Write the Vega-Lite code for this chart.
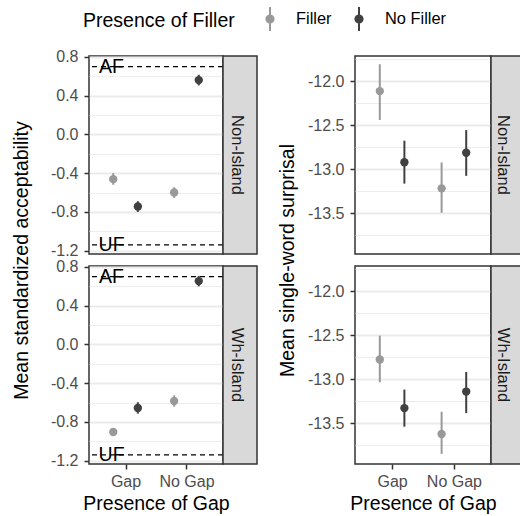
{
  "$schema": "https://vega.github.io/schema/vega-lite/v6.json",
  "padding": {"left": 10, "top": 6, "right": 0, "bottom": 4},
  "datasets": {
    "acc": [
      {"island": "Non-Island", "filler": "Filler", "gap": "Gap", "mean": -0.462, "lo": -0.52, "hi": -0.40},
      {"island": "Non-Island", "filler": "No Filler", "gap": "Gap", "mean": -0.744, "lo": -0.80, "hi": -0.69},
      {"island": "Non-Island", "filler": "Filler", "gap": "No Gap", "mean": -0.599, "lo": -0.655, "hi": -0.545},
      {"island": "Non-Island", "filler": "No Filler", "gap": "No Gap", "mean": 0.561, "lo": 0.506, "hi": 0.616},
      {"island": "Wh-Island", "filler": "Filler", "gap": "Gap", "mean": -0.904, "lo": -0.945, "hi": -0.863},
      {"island": "Wh-Island", "filler": "No Filler", "gap": "Gap", "mean": -0.656, "lo": -0.715, "hi": -0.597},
      {"island": "Wh-Island", "filler": "Filler", "gap": "No Gap", "mean": -0.584, "lo": -0.642, "hi": -0.526},
      {"island": "Wh-Island", "filler": "No Filler", "gap": "No Gap", "mean": 0.654, "lo": 0.60, "hi": 0.708}
    ],
    "surp": [
      {"island": "Non-Island", "filler": "Filler", "gap": "Gap", "mean": -12.114, "lo": -12.442, "hi": -11.809},
      {"island": "Non-Island", "filler": "No Filler", "gap": "Gap", "mean": -12.922, "lo": -13.165, "hi": -12.677},
      {"island": "Non-Island", "filler": "Filler", "gap": "No Gap", "mean": -13.219, "lo": -13.497, "hi": -12.925},
      {"island": "Non-Island", "filler": "No Filler", "gap": "No Gap", "mean": -12.815, "lo": -13.077, "hi": -12.557},
      {"island": "Wh-Island", "filler": "Filler", "gap": "Gap", "mean": -12.777, "lo": -13.037, "hi": -12.506},
      {"island": "Wh-Island", "filler": "No Filler", "gap": "Gap", "mean": -13.330, "lo": -13.541, "hi": -13.119},
      {"island": "Wh-Island", "filler": "Filler", "gap": "No Gap", "mean": -13.624, "lo": -13.850, "hi": -13.371},
      {"island": "Wh-Island", "filler": "No Filler", "gap": "No Gap", "mean": -13.142, "lo": -13.387, "hi": -12.919}
    ],
    "lines": [
      {"label": "AF", "value": 0.70},
      {"label": "UF", "value": -1.14}
    ]
  },
  "columns": 5,
  "spacing": {"row": 12, "column": 0},
  "bounds": "flush",
  "align": "each",
  "concat": [
    {
      "width": 134, "height": 198,
      "layer": [
        {
          "data": {"name": "lines"},
          "mark": {"type": "rule", "strokeDash": [5, 4], "color": "black", "strokeWidth": 1.3},
          "encoding": {
            "y": {"field": "value", "type": "quantitative", "scale": {"domain": [-1.235, 0.81], "nice": false, "zero": false},
              "axis": {"values": [-1.2, -1.0, -0.8, -0.6, -0.4, -0.2, 0, 0.2, 0.4, 0.6, 0.8], "tickCount": 30, "format": ".1f", "labelOverlap": false,
                "labelExpr": "abs(datum.value/0.4 - round(datum.value/0.4)) < 0.01 ? replace(datum.label, '−', '-') : ''",
                "tickOpacity": {"condition": {"test": "abs(datum.value/0.4 - round(datum.value/0.4)) > 0.01", "value": 0}, "value": 1},
                "gridWidth": {"condition": {"test": "abs(datum.value/0.4 - round(datum.value/0.4)) > 0.01", "value": 0.9}, "value": 1.8},
                "title": "Mean standardized acceptability", "titleX": -58, "titleY": 204}}
          }
        },
        {
          "data": {"name": "lines"},
          "mark": {"type": "text", "dx": -14, "fontSize": 19.5, "color": "black", "baseline": "middle"},
          "encoding": {
            "x": {"datum": "Gap", "type": "nominal", "scale": {"type": "point", "domain": ["Gap", "No Gap"], "padding": 0.6}, "axis": {"labels": false, "ticks": false, "title": null}},
            "y": {"field": "value", "type": "quantitative"},
            "text": {"field": "label", "type": "nominal"}
          }
        },
        {
          "data": {"name": "acc"},
          "transform": [{"filter": "datum.island === 'Non-Island'"}],
          "mark": {"type": "rule", "strokeWidth": 2},
          "encoding": {
            "x": {"field": "gap", "type": "nominal", "scale": {"type": "point", "domain": ["Gap", "No Gap"], "padding": 0.6}, "axis": {"labels": false, "ticks": false, "title": null}},
            "xOffset": {"field": "filler", "type": "nominal", "scale": {"type": "point", "domain": ["Filler", "No Filler"], "range": [-12.3, 12.3], "padding": 0}},
            "y": {"field": "lo", "type": "quantitative"},
            "y2": {"field": "hi"},
            "color": {"field": "filler", "type": "nominal", "scale": {"domain": ["Filler", "No Filler"], "range": ["#999999", "#404040"]}, "title": "Presence of Filler", "legend": {"orient": "none", "legendX": -6, "legendY": -50}}
          }
        },
        {
          "data": {"name": "acc"},
          "transform": [{"filter": "datum.island === 'Non-Island'"}],
          "mark": {"type": "point", "filled": true, "size": 70, "opacity": 1},
          "encoding": {
            "x": {"field": "gap", "type": "nominal", "scale": {"type": "point", "domain": ["Gap", "No Gap"], "padding": 0.6}, "axis": {"labels": false, "ticks": false, "title": null}},
            "xOffset": {"field": "filler", "type": "nominal", "scale": {"type": "point", "domain": ["Filler", "No Filler"], "range": [-12.3, 12.3], "padding": 0}},
            "y": {"field": "mean", "type": "quantitative"},
            "color": {"field": "filler", "type": "nominal", "scale": {"domain": ["Filler", "No Filler"], "range": ["#999999", "#404040"]}, "title": "Presence of Filler", "legend": {"orient": "none", "legendX": -6, "legendY": -50}}
          }
        }
      ]
    },
    {
      "width": 34, "height": 198,
      "view": {"fill": "#D9D9D9", "stroke": "#333333", "strokeWidth": 1.5},
      "data": {"values": [{"island": "Non-Island"}]},
      "mark": {"type": "text", "angle": 90, "fontSize": 16.5, "color": "#1A1A1A", "align": "center", "baseline": "middle", "dy": 3},
      "encoding": {"text": {"field": "island", "type": "nominal"}}
    },
    {
      "width": 98, "height": 198,
      "view": {"stroke": null},
      "data": {"values": [{}]},
      "mark": {"type": "text"},
      "encoding": {"text": {"value": ""}}
    },
    {
      "width": 136, "height": 198,
      "layer": [
        {
          "data": {"name": "surp"},
          "transform": [{"filter": "datum.island === 'Non-Island'"}],
          "mark": {"type": "rule", "strokeWidth": 2},
          "encoding": {
            "x": {"field": "gap", "type": "nominal", "scale": {"type": "point", "domain": ["Gap", "No Gap"], "padding": 0.6}, "axis": {"labels": false, "ticks": false, "title": null}},
            "xOffset": {"field": "filler", "type": "nominal", "scale": {"type": "point", "domain": ["Filler", "No Filler"], "range": [-12.3, 12.3], "padding": 0}},
            "y": {"field": "lo", "type": "quantitative", "scale": {"domain": [-13.965, -11.715], "nice": false, "zero": false},
              "axis": {"values": [-13.75, -13.5, -13.25, -13, -12.75, -12.5, -12.25, -12, -11.75], "tickCount": 30, "format": ".1f", "labelOverlap": false,
                "labelExpr": "abs(datum.value/0.5 - round(datum.value/0.5)) < 0.01 ? replace(datum.label, '−', '-') : ''",
                "tickOpacity": {"condition": {"test": "abs(datum.value/0.5 - round(datum.value/0.5)) > 0.01", "value": 0}, "value": 1},
                "gridWidth": {"condition": {"test": "abs(datum.value/0.5 - round(datum.value/0.5)) > 0.01", "value": 0.9}, "value": 1.8},
                "title": "Mean single-word surprisal", "titleX": -58, "titleY": 204}},
            "y2": {"field": "hi"},
            "color": {"field": "filler", "type": "nominal", "scale": {"domain": ["Filler", "No Filler"], "range": ["#999999", "#404040"]}, "title": "Presence of Filler", "legend": {"orient": "none", "legendX": -6, "legendY": -50}}
          }
        },
        {
          "data": {"name": "surp"},
          "transform": [{"filter": "datum.island === 'Non-Island'"}],
          "mark": {"type": "point", "filled": true, "size": 70, "opacity": 1},
          "encoding": {
            "x": {"field": "gap", "type": "nominal", "scale": {"type": "point", "domain": ["Gap", "No Gap"], "padding": 0.6}, "axis": {"labels": false, "ticks": false, "title": null}},
            "xOffset": {"field": "filler", "type": "nominal", "scale": {"type": "point", "domain": ["Filler", "No Filler"], "range": [-12.3, 12.3], "padding": 0}},
            "y": {"field": "mean", "type": "quantitative"},
            "color": {"field": "filler", "type": "nominal", "scale": {"domain": ["Filler", "No Filler"], "range": ["#999999", "#404040"]}, "title": "Presence of Filler", "legend": {"orient": "none", "legendX": -6, "legendY": -50}}
          }
        }
      ]
    },
    {
      "width": 30, "height": 198,
      "view": {"fill": "#D9D9D9", "stroke": "#333333", "strokeWidth": 1.5},
      "data": {"values": [{"island": "Non-Island"}]},
      "mark": {"type": "text", "angle": 90, "fontSize": 16.5, "color": "#1A1A1A", "align": "center", "baseline": "middle", "dy": 3},
      "encoding": {"text": {"field": "island", "type": "nominal"}}
    },
    {
      "width": 134, "height": 198,
      "layer": [
        {
          "data": {"name": "lines"},
          "mark": {"type": "rule", "strokeDash": [5, 4], "color": "black", "strokeWidth": 1.3},
          "encoding": {
            "y": {"field": "value", "type": "quantitative", "scale": {"domain": [-1.235, 0.81], "nice": false, "zero": false},
              "axis": {"values": [-1.2, -1.0, -0.8, -0.6, -0.4, -0.2, 0, 0.2, 0.4, 0.6, 0.8], "tickCount": 30, "format": ".1f", "labelOverlap": false,
                "labelExpr": "abs(datum.value/0.4 - round(datum.value/0.4)) < 0.01 ? replace(datum.label, '−', '-') : ''",
                "tickOpacity": {"condition": {"test": "abs(datum.value/0.4 - round(datum.value/0.4)) > 0.01", "value": 0}, "value": 1},
                "gridWidth": {"condition": {"test": "abs(datum.value/0.4 - round(datum.value/0.4)) > 0.01", "value": 0.9}, "value": 1.8},
                "title": null}}
          }
        },
        {
          "data": {"name": "lines"},
          "mark": {"type": "text", "dx": -14, "fontSize": 19.5, "color": "black", "baseline": "middle"},
          "encoding": {
            "x": {"datum": "Gap", "type": "nominal", "scale": {"type": "point", "domain": ["Gap", "No Gap"], "padding": 0.6}, "axis": {"title": "Presence of Gap", "labelAngle": 0}},
            "y": {"field": "value", "type": "quantitative"},
            "text": {"field": "label", "type": "nominal"}
          }
        },
        {
          "data": {"name": "acc"},
          "transform": [{"filter": "datum.island === 'Wh-Island'"}],
          "mark": {"type": "rule", "strokeWidth": 2},
          "encoding": {
            "x": {"field": "gap", "type": "nominal", "scale": {"type": "point", "domain": ["Gap", "No Gap"], "padding": 0.6}, "axis": {"title": "Presence of Gap", "labelAngle": 0}},
            "xOffset": {"field": "filler", "type": "nominal", "scale": {"type": "point", "domain": ["Filler", "No Filler"], "range": [-12.3, 12.3], "padding": 0}},
            "y": {"field": "lo", "type": "quantitative"},
            "y2": {"field": "hi"},
            "color": {"field": "filler", "type": "nominal", "scale": {"domain": ["Filler", "No Filler"], "range": ["#999999", "#404040"]}, "title": "Presence of Filler", "legend": {"orient": "none", "legendX": -6, "legendY": -50}}
          }
        },
        {
          "data": {"name": "acc"},
          "transform": [{"filter": "datum.island === 'Wh-Island'"}],
          "mark": {"type": "point", "filled": true, "size": 70, "opacity": 1},
          "encoding": {
            "x": {"field": "gap", "type": "nominal", "scale": {"type": "point", "domain": ["Gap", "No Gap"], "padding": 0.6}, "axis": {"title": "Presence of Gap", "labelAngle": 0}},
            "xOffset": {"field": "filler", "type": "nominal", "scale": {"type": "point", "domain": ["Filler", "No Filler"], "range": [-12.3, 12.3], "padding": 0}},
            "y": {"field": "mean", "type": "quantitative"},
            "color": {"field": "filler", "type": "nominal", "scale": {"domain": ["Filler", "No Filler"], "range": ["#999999", "#404040"]}, "title": "Presence of Filler", "legend": {"orient": "none", "legendX": -6, "legendY": -50}}
          }
        }
      ]
    },
    {
      "width": 34, "height": 198,
      "view": {"fill": "#D9D9D9", "stroke": "#333333", "strokeWidth": 1.5},
      "data": {"values": [{"island": "Wh-Island"}]},
      "mark": {"type": "text", "angle": 90, "fontSize": 16.5, "color": "#1A1A1A", "align": "center", "baseline": "middle", "dy": 3},
      "encoding": {"text": {"field": "island", "type": "nominal"}}
    },
    {
      "width": 98, "height": 198,
      "view": {"stroke": null},
      "data": {"values": [{}]},
      "mark": {"type": "text"},
      "encoding": {"text": {"value": ""}}
    },
    {
      "width": 136, "height": 198,
      "layer": [
        {
          "data": {"name": "surp"},
          "transform": [{"filter": "datum.island === 'Wh-Island'"}],
          "mark": {"type": "rule", "strokeWidth": 2},
          "encoding": {
            "x": {"field": "gap", "type": "nominal", "scale": {"type": "point", "domain": ["Gap", "No Gap"], "padding": 0.6}, "axis": {"title": "Presence of Gap", "labelAngle": 0}},
            "xOffset": {"field": "filler", "type": "nominal", "scale": {"type": "point", "domain": ["Filler", "No Filler"], "range": [-12.3, 12.3], "padding": 0}},
            "y": {"field": "lo", "type": "quantitative", "scale": {"domain": [-13.965, -11.715], "nice": false, "zero": false},
              "axis": {"values": [-13.75, -13.5, -13.25, -13, -12.75, -12.5, -12.25, -12, -11.75], "tickCount": 30, "format": ".1f", "labelOverlap": false,
                "labelExpr": "abs(datum.value/0.5 - round(datum.value/0.5)) < 0.01 ? replace(datum.label, '−', '-') : ''",
                "tickOpacity": {"condition": {"test": "abs(datum.value/0.5 - round(datum.value/0.5)) > 0.01", "value": 0}, "value": 1},
                "gridWidth": {"condition": {"test": "abs(datum.value/0.5 - round(datum.value/0.5)) > 0.01", "value": 0.9}, "value": 1.8},
                "title": null}},
            "y2": {"field": "hi"},
            "color": {"field": "filler", "type": "nominal", "scale": {"domain": ["Filler", "No Filler"], "range": ["#999999", "#404040"]}, "title": "Presence of Filler", "legend": {"orient": "none", "legendX": -6, "legendY": -50}}
          }
        },
        {
          "data": {"name": "surp"},
          "transform": [{"filter": "datum.island === 'Wh-Island'"}],
          "mark": {"type": "point", "filled": true, "size": 70, "opacity": 1},
          "encoding": {
            "x": {"field": "gap", "type": "nominal", "scale": {"type": "point", "domain": ["Gap", "No Gap"], "padding": 0.6}, "axis": {"title": "Presence of Gap", "labelAngle": 0}},
            "xOffset": {"field": "filler", "type": "nominal", "scale": {"type": "point", "domain": ["Filler", "No Filler"], "range": [-12.3, 12.3], "padding": 0}},
            "y": {"field": "mean", "type": "quantitative"},
            "color": {"field": "filler", "type": "nominal", "scale": {"domain": ["Filler", "No Filler"], "range": ["#999999", "#404040"]}, "title": "Presence of Filler", "legend": {"orient": "none", "legendX": -6, "legendY": -50}}
          }
        }
      ]
    },
    {
      "width": 30, "height": 198,
      "view": {"fill": "#D9D9D9", "stroke": "#333333", "strokeWidth": 1.5},
      "data": {"values": [{"island": "Wh-Island"}]},
      "mark": {"type": "text", "angle": 90, "fontSize": 16.5, "color": "#1A1A1A", "align": "center", "baseline": "middle", "dy": 3},
      "encoding": {"text": {"field": "island", "type": "nominal"}}
    }
  ],
  "config": {
    "font": "Liberation Sans",
    "view": {"stroke": "#333333", "strokeWidth": 1.5},
    "axis": {"labelFontSize": 16, "labelColor": "#4D4D4D", "titleFontSize": 19.5, "titleFontWeight": "normal", "titleColor": "black",
      "tickColor": "#333333", "tickWidth": 1.5, "tickSize": 5, "gridColor": "#EBEBEB", "gridWidth": 1.8, "domain": false, "labelPadding": 4, "titlePadding": 5,
      "labelOverlap": false},
    "axisY": {"labelPadding": 6},
    "legend": {"direction": "horizontal", "titleOrient": "left", "titleFontSize": 19.5, "titleFontWeight": "normal", "titleColor": "black",
      "labelFontSize": 16.4, "labelColor": "black", "symbolSize": 576, "symbolStrokeWidth": 2, "labelOffset": 13, "columnPadding": 14, "titlePadding": 22,
      "symbolType": "M0,-1L0,1M0.3,0A0.3,0.3,0,1,1,-0.3,0A0.3,0.3,0,1,1,0.3,0Z"}
  }
}
